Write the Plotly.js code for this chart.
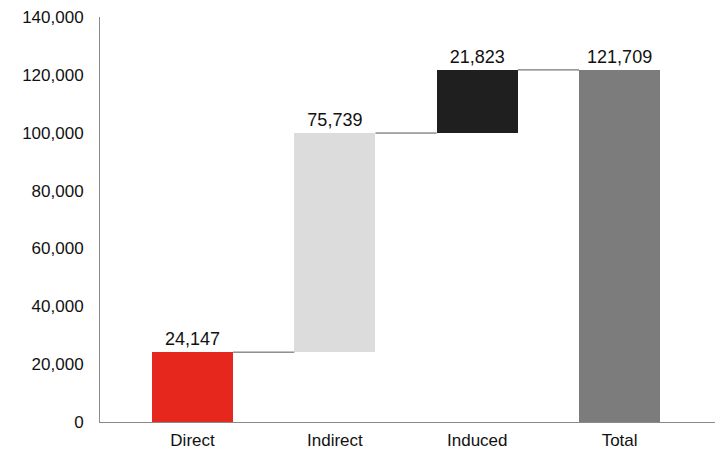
<!DOCTYPE html>
<html>
<head>
<meta charset="utf-8">
<script src="https://cdn.plot.ly/plotly-3.0.1.min.js"></script>
<style>
  html, body { margin: 0; padding: 0; background: #ffffff; }
  #chart { width: 719px; height: 455px; }
</style>
</head>
<body>
<div id="chart"></div>
<script>
// Economic impact breakdown: contributions step up to the total
const categories = ['Direct', 'Indirect', 'Induced', 'Total'];
const impacts = [24147, 75739, 21823, 121709];
const isTotal = [false, false, false, true];
const barColors = ['#e6271d', '#dcdcdc', '#1f1f1f', '#7c7c7c'];
const yTicks = [0, 20000, 40000, 60000, 80000, 100000, 120000, 140000];

// Floating bars: each step starts where the running sum left off
const bases = [];
const tops = [];
let running = 0;
impacts.forEach((v, i) => {
  if (isTotal[i]) {
    bases.push(0);
    tops.push(v);
    running = v;
  } else {
    bases.push(running);
    running += v;
    tops.push(running);
  }
});

const barWidth = 0.57;
const fmt = n => n.toLocaleString('en-US');

const bars = {
  type: 'bar',
  x: categories.map((_, i) => i),
  y: impacts,
  base: bases,
  width: barWidth,
  marker: { color: barColors, line: { width: 0 } },
  text: impacts.map(fmt),
  textposition: 'outside',
  cliponaxis: false,
  textfont: { family: 'Liberation Sans, Arial, sans-serif', size: 18, color: '#111111' },
  hoverinfo: 'skip',
  showlegend: false
};

// Thin connector lines between the end of one step and the next bar
const connectors = [];
for (let i = 0; i < categories.length - 1; i++) {
  connectors.push({
    type: 'line', xref: 'x', yref: 'y',
    x0: i + barWidth / 2, x1: i + 1 - barWidth / 2,
    y0: tops[i], y1: tops[i],
    line: { color: '#555555', width: 1 }
  });
}

const layout = {
  width: 719,
  height: 455,
  margin: { l: 100, r: 4, t: 17, b: 33 },
  paper_bgcolor: '#ffffff',
  plot_bgcolor: '#ffffff',
  font: { family: 'Liberation Sans, Arial, sans-serif', size: 17, color: '#111111' },
  bargap: 0,
  xaxis: {
    range: [-0.65, 3.67],
    tickvals: categories.map((_, i) => i),
    ticktext: categories,
    showgrid: false,
    zeroline: false,
    showline: true,
    linecolor: '#8a8a8a',
    linewidth: 1,
    ticks: '',
    ticklabelstandoff: 3,
    tickfont: { size: 17, color: '#111111' },
    fixedrange: true
  },
  yaxis: {
    range: [0, 140000],
    tickvals: yTicks,
    ticktext: yTicks.map(fmt),
    showgrid: false,
    zeroline: false,
    showline: true,
    linecolor: '#8a8a8a',
    linewidth: 1,
    ticks: '',
    ticklabelstandoff: 12,
    tickfont: { size: 17, color: '#111111' },
    fixedrange: true
  },
  shapes: connectors
};

Plotly.newPlot('chart', [bars], layout, { displayModeBar: false, staticPlot: true });
</script>
</body>
</html>
